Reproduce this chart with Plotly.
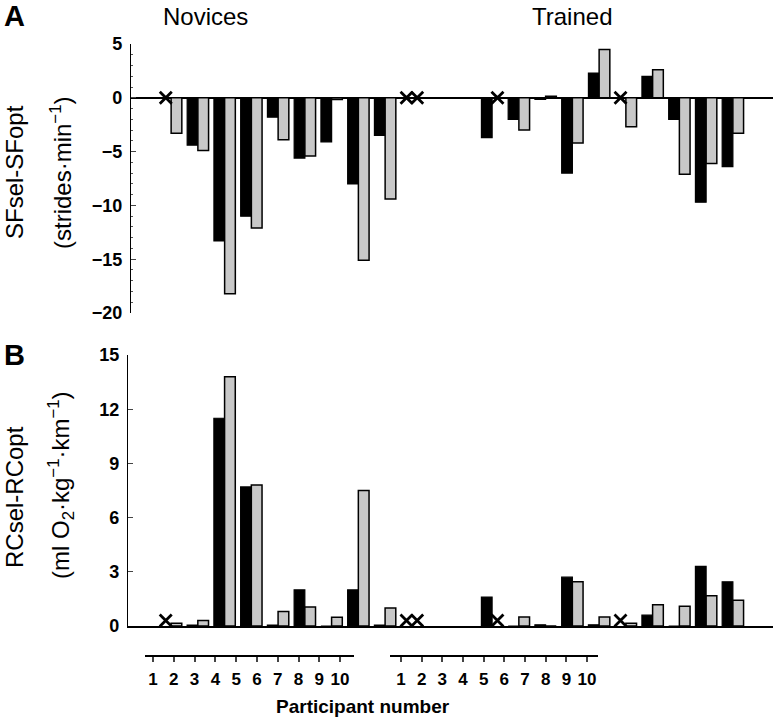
import plotly.graph_objects as go

W, H = 778, 728

participants = list(range(1, 11))
tick_labels = [str(p) for p in participants]

# Panel A: SFsel-SFopt (strides/min); None = missing (X)
sf_nov_black = [None, -4.4, -13.3, -11.0, -1.8, -5.6, -4.1, -8.0, -3.5, None]
sf_nov_gray = [-3.3, -4.9, -18.2, -12.1, -3.9, -5.4, -0.15, -15.1, -9.4, None]
sf_tr_black = [-3.7, -2.0, -0.15, -7.0, 2.3, None, 2.0, -2.0, -9.7, -6.4]
sf_tr_gray = [None, -3.0, 0.15, -4.2, 4.5, -2.7, 2.6, -7.1, -6.1, -3.3]

# Panel B: RCsel-RCopt (ml O2/kg/km)
rc_nov_black = [None, 0.05, 11.5, 7.7, 0.05, 2.0, 0.0, 2.0, 0.05, None]
rc_nov_gray = [0.15, 0.3, 13.8, 7.8, 0.8, 1.05, 0.48, 7.5, 1.0, None]
rc_tr_black = [1.6, 0.0, 0.07, 2.7, 0.07, None, 0.6, 0.0, 3.3, 2.45]
rc_tr_gray = [None, 0.5, 0.0, 2.45, 0.5, 0.15, 1.17, 1.1, 1.67, 1.43]

GROUP_OFFSET = 12  # trained participants placed after a gap
x_nov = participants
x_tr = [p + GROUP_OFFSET for p in participants]
x_all = x_nov + x_tr

BLACK = "#000000"
GRAY = "#c8c8c8"
BAR_HALF = 0.2

def px_x(p):
    return p / W

def px_y(p):
    return 1 - p / H

fig = go.Figure()

def add_panel(black, gray, xa, ya, xmark_y):
    fig.add_trace(go.Bar(x=x_all, y=black, marker=dict(color=BLACK, line=dict(color=BLACK, width=1.2)),
                         xaxis=xa, yaxis=ya, showlegend=False, hoverinfo="skip"))
    fig.add_trace(go.Bar(x=x_all, y=gray, marker=dict(color=GRAY, line=dict(color=BLACK, width=1.5)),
                         xaxis=xa, yaxis=ya, showlegend=False, hoverinfo="skip"))
    mx = []
    for xv, b, g in zip(x_all, black, gray):
        if b is None:
            mx.append(xv - BAR_HALF)
        if g is None:
            mx.append(xv + BAR_HALF)
    fig.add_trace(go.Scatter(x=mx, y=[xmark_y] * len(mx), mode="markers",
                             marker=dict(symbol="x-thin", size=12, line=dict(color=BLACK, width=2.8)),
                             xaxis=xa, yaxis=ya, showlegend=False, hoverinfo="skip", cliponaxis=False))

add_panel(sf_nov_black + sf_tr_black, sf_nov_gray + sf_tr_gray, "x", "y", 0)
add_panel(rc_nov_black + rc_tr_black, rc_nov_gray + rc_tr_gray, "x2", "y2", 0.3)

# helper invisible traces for the decorative participant axes
fig.add_trace(go.Scatter(x=participants, y=[0] * 10, mode="markers", marker=dict(opacity=0),
                         xaxis="x3", yaxis="y3", showlegend=False, hoverinfo="skip"))
fig.add_trace(go.Scatter(x=participants, y=[0] * 10, mode="markers", marker=dict(opacity=0),
                         xaxis="x4", yaxis="y4", showlegend=False, hoverinfo="skip"))

tickfont = dict(family="Liberation Sans, Arial, sans-serif", size=18, color="black", weight="bold")
narrow_font = dict(family="Liberation Sans Narrow, Liberation Sans, Arial, sans-serif", size=17,
                   color="black", weight="bold")

fig.update_layout(
    width=W, height=H,
    margin=dict(l=0, r=0, t=0, b=0, pad=0),
    paper_bgcolor="white", plot_bgcolor="white",
    barmode="group", bargap=0.2, bargroupgap=0,
    xaxis=dict(domain=[px_x(131), px_x(773)], range=[-0.5, 23.5], anchor="y", automargin=False,
               showline=False, showticklabels=False, ticks="", showgrid=False, zeroline=False),
    yaxis=dict(domain=[px_y(313), px_y(44)], range=[-20, 5], anchor="x", automargin=False,
               tickvals=[5, 0, -5, -10, -15, -20], ticks="inside", ticklen=5, tickwidth=1.2,
               showline=True, linecolor="black", linewidth=1.2, showgrid=False,
               zeroline=True, zerolinecolor="black", zerolinewidth=1.5,
               tickfont=tickfont, ticklabelstandoff=4,
               minor=dict(dtick=1, ticks="inside", ticklen=2, tickcolor="#555555", showgrid=False)),
    xaxis2=dict(domain=[px_x(128), px_x(773)], range=[-0.61, 23.5], anchor="y2", automargin=False,
                showline=True, linecolor="black", linewidth=1.5, showticklabels=False, ticks="",
                showgrid=False, zeroline=False),
    yaxis2=dict(domain=[px_y(626), px_y(355)], range=[0, 15], anchor="x2", automargin=False,
                tickvals=[0, 3, 6, 9, 12, 15], ticks="inside", ticklen=5, tickwidth=1.2,
                showline=True, linecolor="black", linewidth=1.2, showgrid=False, zeroline=False,
                tickfont=tickfont, ticklabelstandoff=4),
    xaxis3=dict(domain=[px_x(145), px_x(354)], range=[0.615, 10.67], anchor="y3", automargin=False,
                tickvals=participants, ticktext=tick_labels, ticks="outside", ticklen=5, tickwidth=1.5,
                showline=True, linecolor="black", linewidth=2, showgrid=False, zeroline=False,
                tickfont=narrow_font, ticklabelstandoff=3),
    yaxis3=dict(domain=[px_y(655), px_y(650)], range=[0, 1], anchor="x3", visible=False, automargin=False),
    xaxis4=dict(domain=[px_x(390), px_x(598)], range=[0.47, 10.53], anchor="y4", automargin=False,
                tickvals=participants, ticktext=tick_labels, ticks="outside", ticklen=5, tickwidth=1.5,
                showline=True, linecolor="black", linewidth=2, showgrid=False, zeroline=False,
                tickfont=narrow_font, ticklabelstandoff=3),
    yaxis4=dict(domain=[px_y(655), px_y(650)], range=[0, 1], anchor="x4", visible=False, automargin=False),
)

def ann(text, x, y, size, bold=False, angle=0, family="Liberation Sans, Arial, sans-serif"):
    fig.add_annotation(text=text, x=px_x(x), y=px_y(y), xref="paper", yref="paper",
                       xanchor="center", yanchor="middle", showarrow=False, textangle=angle,
                       font=dict(family=family, size=size, color="black",
                                 weight="bold" if bold else "normal"))

ann("A", 14, 16, 29, bold=True)
ann("B", 14, 355, 29, bold=True)
ann("Novices", 205, 16, 24)
ann("Trained", 572, 16, 24)
ann("SFsel-SFopt", 14, 172, 24, angle=-90)
ann("(strides·min<sup>−1</sup>)", 61, 173, 24, angle=-90)
ann("RCsel-RCopt", 14, 497, 24, angle=-90)
ann("(ml O<sub>2</sub>·kg<sup>−1</sup>·km<sup>−1</sup>)", 61, 485, 24, angle=-90)
ann("Participant number", 363, 706, 19, bold=True)

fig.write_html("out.html", config={"displayModeBar": False},
               post_script="document.body.style.margin='0';")
